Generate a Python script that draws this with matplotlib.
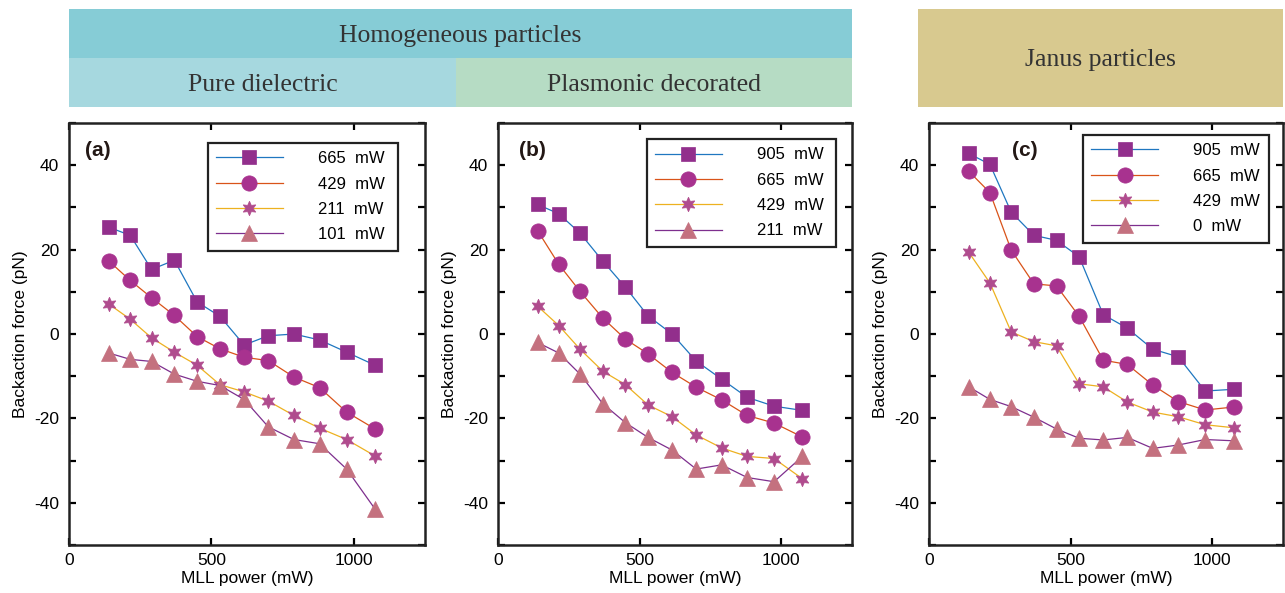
import matplotlib
matplotlib.use("Agg")
import matplotlib.pyplot as plt
from matplotlib.patches import Rectangle
from matplotlib.ticker import MultipleLocator, FixedLocator


# Мощность MLL (общая ось x для всех трёх панелей)
power = [140, 215, 290, 370, 450, 530, 615, 700, 790, 880, 975, 1075]

# (a) Pure dielectric
labels_a = ["665  mW", "429  mW", "211  mW", "101  mW"]
a_665 = [25.3, 23.4, 15.3, 17.5, 7.6, 4.2, -2.6, -0.4, 0.0, -1.4, -4.3, -7.4]
a_429 = [17.3, 12.7, 8.6, 4.4, -0.6, -3.5, -5.5, -6.3, -10.2, -12.7, -18.5, -22.5]
a_211 = [7.1, 3.5, -0.9, -4.3, -7.4, -12.0, -13.7, -15.9, -19.3, -22.3, -25.0, -28.9]
a_101 = [-4.5, -6.0, -6.5, -9.5, -11.2, -12.2, -15.5, -22.0, -25.0, -26.0, -32.0, -41.5]

# (b) Plasmonic decorated
labels_b = ["905  mW", "665  mW", "429  mW", "211  mW"]
b_905 = [30.7, 28.5, 23.9, 17.3, 11.1, 4.3, 0.0, -6.4, -10.7, -15.0, -17.1, -18.1]
b_665 = [24.5, 16.5, 10.1, 3.8, -1.2, -4.7, -9.1, -12.6, -15.6, -19.3, -21.1, -24.4]
b_429 = [6.6, 2.0, -3.6, -8.8, -12.0, -16.8, -19.6, -23.9, -27.0, -29.0, -29.5, -34.3]
b_211 = [-2.0, -4.5, -9.5, -16.5, -21.0, -24.5, -27.5, -32.0, -31.0, -34.0, -35.0, -29.0]

# (c) Janus particles
labels_c = ["905  mW", "665  mW", "429  mW", "0  mW"]
c_905 = [42.8, 40.2, 28.9, 23.4, 22.2, 18.3, 4.6, 1.4, -3.6, -5.4, -13.5, -13.1]
c_665 = [38.6, 33.5, 19.9, 11.9, 11.4, 4.2, -6.2, -7.2, -12.1, -16.0, -18.0, -17.3]
c_429 = [19.4, 12.1, 0.5, -1.8, -2.8, -11.8, -12.5, -16.1, -18.5, -19.6, -21.5, -22.2]
c_0 = [-12.5, -15.5, -17.2, -19.7, -22.5, -24.7, -25.1, -24.5, -27.1, -26.3, -25.0, -25.3]

# Стили линий и маркеров (как в MATLAB); звезда шестиконечная
line_colors = ["#1F77C0", "#D95319", "#EDB120", "#7E2F8E"]
marker_colors = ["#922F8C", "#A8328F", "#B04C8E", "#C4717F"]
markers = ["s", "o", (6, 1, 0), "^"]
marker_sizes = [9.5, 11, 10.5, 11]

plt.rcParams["font.family"] = ["Liberation Sans", "DejaVu Sans"]
plt.rcParams["axes.unicode_minus"] = False


def draw_panel(ax, series, labels, tag, tag_x, legend_box):
    for i in range(4):
        ax.plot(power, series[i], color=line_colors[i], lw=0.9,
                marker=markers[i], ms=marker_sizes[i],
                mfc=marker_colors[i], mec=marker_colors[i], mew=0.5,
                label=labels[i])
    ax.set_xlim(0, 1250)
    ax.set_ylim(-50, 50)
    ax.xaxis.set_major_locator(FixedLocator([0, 500, 1000]))
    ax.yaxis.set_major_locator(MultipleLocator(20))
    ax.yaxis.set_minor_locator(MultipleLocator(10))
    ax.tick_params(which="both", direction="in", top=True, right=True,
                   length=5, width=1.6, labelsize=12.5)
    ax.tick_params(axis="y", pad=7)
    ax.tick_params(axis="x", pad=6)
    for s in ax.spines.values():
        s.set_linewidth(1.8)
        s.set_color("#222222")
    ax.set_xlabel("MLL power (mW)", fontsize=12.5, labelpad=2)
    ax.set_ylabel("Backaction force (pN)", fontsize=12.5, labelpad=4.5)
    ax.text(tag_x, 0.935, tag, transform=ax.transAxes, fontsize=15,
            fontweight="bold", color="#231815", va="center")
    leg = ax.legend(loc="upper left", bbox_to_anchor=legend_box,
                    mode="expand", borderaxespad=0, fontsize=12,
                    handlelength=4.0, handletextpad=2.1, labelspacing=0.62,
                    borderpad=0.5, fancybox=False, framealpha=1,
                    edgecolor="#222222")
    leg.get_frame().set_linewidth(1.6)


fig = plt.figure(figsize=(12.85, 5.93), dpi=100)

ax_a = fig.add_axes([0.0537, 0.0809, 0.277, 0.7116])
ax_b = fig.add_axes([0.3875, 0.0809, 0.2755, 0.7116])
ax_c = fig.add_axes([0.7230, 0.0809, 0.2755, 0.7116])

draw_panel(ax_a, [a_665, a_429, a_211, a_101], labels_a, "(a)", 0.045,
           (0.39, 0.692, 0.535, 0.261))
draw_panel(ax_b, [b_905, b_665, b_429, b_211], labels_b, "(b)", 0.06,
           (0.42, 0.700, 0.535, 0.262))
draw_panel(ax_c, [c_905, c_665, c_429, c_0], labels_c, "(c)", 0.235,
           (0.435, 0.710, 0.525, 0.262))

# Цветные плашки сверху
bands = [
    (0.0537, 0.9022, 0.6093, 0.0826, "#86CCD6", "Homogeneous particles"),
    (0.0537, 0.8196, 0.3012, 0.0826, "#A6D8DF", "Pure dielectric"),
    (0.3549, 0.8196, 0.3081, 0.0826, "#B6DCC4", "Plasmonic decorated"),
    (0.7144, 0.8196, 0.2840, 0.1652, "#D8C98F", "Janus particles"),
]
for x0, y0, w, h, col, txt in bands:
    fig.patches.append(Rectangle((x0, y0), w, h, transform=fig.transFigure,
                                 facecolor=col, edgecolor="none", zorder=0))
    fig.text(x0 + w / 2, y0 + h / 2 - 0.004, txt, ha="center", va="center",
             fontsize=18.5, color="#333333",
             family=["Liberation Serif", "DejaVu Serif"])

fig.savefig("out.png", dpi=100)
